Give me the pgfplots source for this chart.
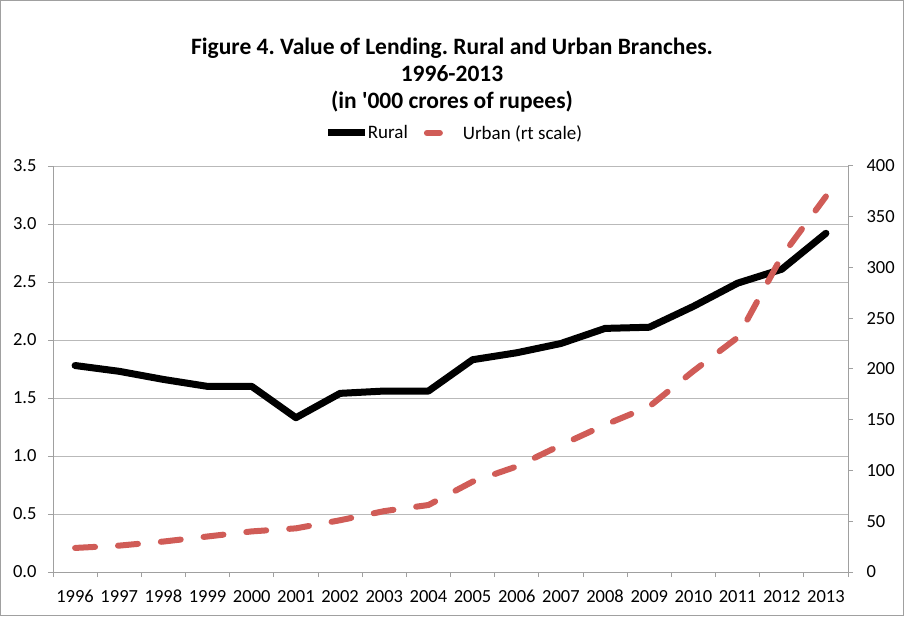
\documentclass[border=0pt]{standalone}
\usepackage{fontspec}
\setmainfont{Carlito}
\newfontfamily\titlefont{Carlito}
\usepackage{pgfplots}
\pgfplotsset{compat=1.18}
\definecolor{urb}{RGB}{208,92,87}
\definecolor{gridc}{RGB}{185,185,185}
\definecolor{axc}{RGB}{160,160,160}
\pgfplotsset{
  longleg/.style={legend image code/.code={\draw[##1] (0pt,0pt) -- (37pt,0pt);}},
  shortleg/.style={legend image code/.code={\draw[##1, solid] (3pt,0pt) -- (16pt,0pt);}},
}
\frenchspacing
\begin{document}
\begin{tikzpicture}[x=1pt,y=1pt]
\draw[axc, line width=1pt] (0.5,0.5) rectangle (903.5,615.5);
\node[align=center, font=\titlefont\bfseries\fontsize{23.5}{27}\selectfont] at (452,616-75) {Figure 4. Value of Lending. Rural and Urban Branches.\\1996-2013\\(in '000 crores of rupees)};
\pgfplotsset{common/.style={
  at={(53pt,44pt)}, anchor=south west,
  width=795pt, height=406pt, scale only axis,
  xmin=-0.5, xmax=17.5,
  tick align=outside,
  /pgf/number format/assume math mode=true,
  tick label style={font=\fontsize{18.5}{20}\selectfont},
  axis line style={axc, line width=1pt},
  tick style={axc, line width=1pt},
  major tick length=5pt,
}}
\begin{axis}[common,
  axis x line*=bottom, axis y line*=left,
  ymin=0, ymax=3.5, ytick={0,0.5,...,3.5},
  yticklabel style={xshift=-8pt, /pgf/number format/.cd, fixed, fixed zerofill, precision=1},
  ymajorgrids, grid style={gridc, line width=1pt},
  xtick={-0.5,0.5,...,17.5}, xticklabels={},
  extra x ticks={0,...,17},
  extra x tick labels={1996,1997,1998,1999,2000,2001,2002,2003,2004,2005,2006,2007,2008,2009,2010,2011,2012,2013},
  extra x tick style={major tick length=0pt, grid=none, xticklabel style={anchor=base, yshift=-30pt}},
]
\addplot[black, line width=7pt, line join=round, line cap=round] coordinates {
(0,1.78)(1,1.73)(2,1.66)(3,1.60)(4,1.60)(5,1.33)(6,1.54)(7,1.56)(8,1.56)
(9,1.83)(10,1.89)(11,1.97)(12,2.10)(13,2.11)(14,2.29)(15,2.49)(16,2.61)(17,2.92)};
\end{axis}
\begin{axis}[common,
  axis y line*=right, axis x line=none,
  ymin=0, ymax=400, ytick={0,50,...,400},
  yticklabel style={xshift=10pt},
  legend columns=2,
  legend style={draw=none, fill=none, at={(0.5,1)}, anchor=center, yshift=33pt, xshift=4pt,
    font=\fontsize{19}{21}\selectfont, /tikz/every even column/.append style={column sep=14pt}},
]
\addlegendimage{black, line width=7pt, longleg}
\addlegendentry{\hspace{-3pt}Rural}
\addplot[urb, line width=6pt, dash pattern=on 20pt off 23pt, line cap=round, line join=round, shortleg] coordinates {
(0,23.7)(1,26)(2,30)(3,35)(4,40)(5,43)(6,51)(7,60)(8,66)
(9,89)(10,104)(11,125)(12,145)(13,163)(14,198)(15,231)(16,311)(17,370)};
\addlegendentry{\hspace{18pt}Urban (rt scale)}
\end{axis}
\end{tikzpicture}
\end{document}
